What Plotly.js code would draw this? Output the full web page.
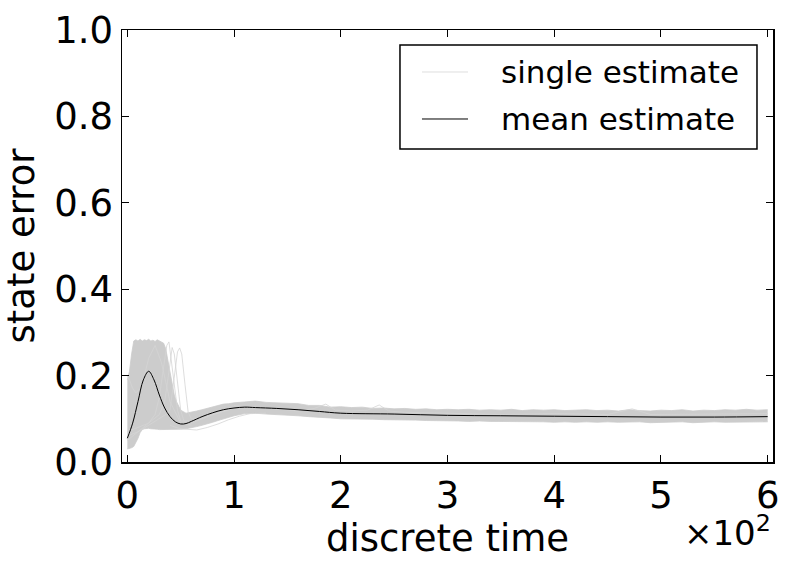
<!DOCTYPE html>
<html><head><meta charset="utf-8">
<script src="https://cdn.plot.ly/plotly-3.0.1.min.js"></script>
<style>html,body{margin:0;padding:0;background:#fff}#plot{width:791px;height:563px}</style>
</head><body><div id="plot"></div>
<script>
// mean estimate
const meanX = [0,5,10,15,20,25,30,35,40,45,50,55,60,70,80,90,100,110,120,140,160,180,200,250,300,350,400,450,500,550,600];
const meanY = [0.055,0.09,0.14,0.19,0.21,0.19,0.155,0.125,0.105,0.093,0.088,0.089,0.094,0.105,0.114,0.121,0.125,0.127,0.126,0.124,0.121,0.117,0.113,0.111,0.108,0.107,0.106,0.105,0.104,0.104,0.105];

// envelope of the single estimates (dense band)
const bandX = [0,2,4,6,8,10,12,14,16,18,20,22,24,26,28,30,32,34,36,38,40,42,44,46,48,50,55,60,65,70,75,80,85,90,95,100,
  110,120,130,140,150,160,170,180,190,200,210,220,230,240,250,260,270,280,290,300,310,320,330,340,350,360,370,380,390,400,
  410,420,430,440,450,460,470,480,490,500,510,520,530,540,550,560,570,580,590,600];
const bandUpper = [0.19,0.21,0.25,0.28,0.283,0.28,0.284,0.28,0.283,0.281,0.284,0.28,0.282,0.279,0.283,0.28,0.278,0.275,0.262,0.235,0.2,0.175,0.155,0.14,0.128,0.12,0.113,0.115,0.118,0.121,0.124,0.127,0.13,0.134,0.135,0.137,
  0.139,0.141,0.138,0.137,0.136,0.135,0.131,0.131,0.127,0.128,0.126,0.127,0.124,0.125,0.123,0.124,0.122,0.123,0.121,0.122,0.121,0.122,0.120,0.121,0.120,0.122,0.119,0.121,0.120,0.121,
  0.119,0.120,0.121,0.119,0.120,0.118,0.121,0.119,0.118,0.120,0.119,0.121,0.118,0.120,0.119,0.121,0.120,0.122,0.120,0.121];
const bandLower = [0.03,0.031,0.033,0.036,0.045,0.055,0.068,0.075,0.077,0.078,0.078,0.077,0.077,0.076,0.076,0.075,0.075,0.075,0.075,0.075,0.075,0.075,0.075,0.075,0.075,0.076,0.077,0.079,0.082,0.085,0.088,0.092,0.096,0.100,0.104,0.107,
  0.112,0.113,0.111,0.110,0.108,0.107,0.105,0.104,0.102,0.100,0.100,0.099,0.099,0.098,0.098,0.097,0.097,0.096,0.096,0.095,0.095,0.094,0.095,0.094,0.094,0.093,0.094,0.093,0.093,0.092,
  0.093,0.092,0.093,0.092,0.093,0.092,0.092,0.093,0.091,0.092,0.092,0.093,0.091,0.092,0.093,0.092,0.092,0.093,0.092,0.093];

// a few individual single estimates (stragglers / late peaks)
const lineAX = [0,10,20,30,36,40,44,47,49,51,54,57,60,70,80,100];
const lineAY = [0.06,0.07,0.085,0.1,0.11,0.12,0.2,0.255,0.264,0.25,0.18,0.115,0.1,0.1,0.11,0.124];
const lineBX = [0,10,20,26,30,34,37,39,41,44,47,50,60,80,100];
const lineBY = [0.05,0.07,0.09,0.11,0.15,0.22,0.27,0.278,0.24,0.17,0.12,0.095,0.095,0.115,0.127];
const lineCX = [0,10,20,30,35,39,42,44,47,50,53,60,80,100];
const lineCY = [0.07,0.08,0.09,0.11,0.14,0.21,0.265,0.25,0.18,0.12,0.095,0.09,0.11,0.125];
const lineDX = [40,48,55,65,75,85,95,105,115,130];
const lineDY = [0.085,0.078,0.076,0.074,0.08,0.088,0.098,0.106,0.112,0.113];
const lineEX = [100,130,160,175,186,195,210,225,236,245,260,300,350,400,450,473,490,550,600];
const lineEY = [0.13,0.125,0.118,0.124,0.134,0.12,0.118,0.12,0.132,0.118,0.115,0.113,0.11,0.112,0.11,0.123,0.11,0.111,0.112];
const lineFX = [0,2,5,8,12,16,20,26,32,40,50,60];
const lineFY = [0.2,0.19,0.17,0.16,0.17,0.2,0.24,0.27,0.23,0.14,0.09,0.085];

const xTickVals = [0,100,200,300,400,500,600];
const xTickText = ['0','1','2','3','4','5','6'];
const legendNames = ['single estimate', 'mean estimate'];

const GREY = 'rgb(204,204,204)';
const GREY_LINE = 'rgb(212,212,212)';
const F = 'DejaVu Sans, sans-serif';

const traces = [
  {x: bandX, y: bandLower, mode:'lines', line:{color:GREY, width:0.8}, showlegend:false, hoverinfo:'skip'},
  {x: bandX, y: bandUpper, mode:'lines', line:{color:GREY, width:0.8}, fill:'tonexty', fillcolor:GREY, showlegend:false, hoverinfo:'skip'},
  {x: lineAX, y: lineAY, mode:'lines', line:{color:GREY_LINE, width:0.8}, showlegend:false},
  {x: lineBX, y: lineBY, mode:'lines', line:{color:GREY_LINE, width:0.8}, showlegend:false},
  {x: lineCX, y: lineCY, mode:'lines', line:{color:GREY_LINE, width:0.8}, showlegend:false},
  {x: lineDX, y: lineDY, mode:'lines', line:{color:GREY_LINE, width:0.8}, showlegend:false},
  {x: lineEX, y: lineEY, mode:'lines', line:{color:GREY_LINE, width:0.8}, name:legendNames[0], showlegend:false},
  {x: lineFX, y: lineFY, mode:'lines', line:{color:GREY_LINE, width:0.8}, showlegend:false},
  {x: meanX, y: meanY, mode:'lines', line:{color:'black', width:1, shape:'spline'}, name:legendNames[1], showlegend:false}
];

const axisCommon = {
  showgrid:false, zeroline:false, showline:true, linecolor:'black', linewidth:1.5,
  mirror:'allticks', ticks:'inside', ticklen:7, tickwidth:1, tickcolor:'black',
  tickfont:{family:F, size:37, color:'black'}
};

// legend drawn in paper coordinates (matplotlib-style box)
const LX0 = 0.427, LX1 = 0.9754, LY0 = 0.7245, LY1 = 0.9653;
const rows = [0.9028, 0.794];
const shapes = [
  {type:'rect', xref:'paper', yref:'paper', x0:LX0, x1:LX1, y0:LY0, y1:LY1, line:{color:'black', width:1.5}, fillcolor:'white', layer:'above'},
  {type:'line', xref:'paper', yref:'paper', x0:0.4608, x1:0.5315, y0:rows[0], y1:rows[0], line:{color:'rgb(222,222,222)', width:1}, layer:'above'},
  {type:'line', xref:'paper', yref:'paper', x0:0.4608, x1:0.5315, y0:rows[1], y1:rows[1], line:{color:'black', width:1}, layer:'above'}
];
const annotations = [
  {xref:'paper', yref:'paper', x:0.579, y:rows[0], xanchor:'left', yanchor:'middle', text:legendNames[0], showarrow:false, font:{family:F, size:31, color:'black'}},
  {xref:'paper', yref:'paper', x:0.579, y:rows[1], xanchor:'left', yanchor:'middle', text:legendNames[1], showarrow:false, font:{family:F, size:31, color:'black'}},
  {xref:'paper', yref:'paper', x:1.0, y:-0.104, xanchor:'right', yanchor:'top',
    text:'×10<sup>2</sup>', showarrow:false, font:{family:F, size:34, color:'black'}}
];

const layout = {
  width:791, height:563,
  margin:{l:122, r:18, t:30, b:101},
  paper_bgcolor:'white', plot_bgcolor:'white',
  font:{family:F, color:'black'},
  showlegend:false,
  xaxis: Object.assign({}, axisCommon, {
    range:[-5,605], tickvals:xTickVals, ticktext:xTickText,
    title:{text:'discrete time', font:{family:F, size:37}, standoff:4}
  }),
  yaxis: Object.assign({}, axisCommon, {
    range:[0,1], tickvals:[0,0.2,0.4,0.6,0.8,1.0], tickformat:'.1f',
    title:{text:'state error', font:{family:F, size:37}, standoff:8}
  }),
  shapes: shapes,
  annotations: annotations
};

Plotly.newPlot('plot', traces, layout, {staticPlot:true, displayModeBar:false});
</script></body></html>
